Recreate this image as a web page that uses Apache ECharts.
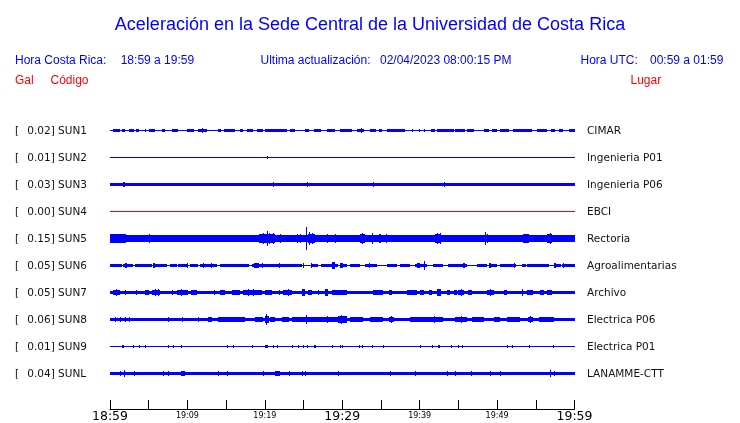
<!DOCTYPE html>
<html>
<head>
<meta charset="utf-8">
<script src="https://cdn.jsdelivr.net/npm/echarts@6/dist/echarts.min.js"></script>
<style>html,body{margin:0;padding:0;background:#fff}#c{width:740px;height:423px}</style>
</head>
<body>
<div id="c"></div>
<script>
// ---- data ----
const stations = ['SUN1','SUN2','SUN3','SUN4','SUN5','SUN6','SUN7','SUN8','SUN9','SUNL'];
const peakGal = [0.02, 0.01, 0.03, 0.00, 0.15, 0.05, 0.05, 0.06, 0.01, 0.04];
const places = ['CIMAR','Ingenieria P01','Ingenieria P06','EBCI','Rectoria','Agroalimentarias','Archivo','Electrica P06','Electrica P01','LANAMME-CTT'];
const timeTickLabels = ['18:59','','19:09','','19:19','','19:29','','19:39','','19:49','','19:59'];
// background (noise) half-amplitude in Gal for each trace
const baseGal = [0.006, 0.006, 0.019, 0.006, 0.04, 0.008, 0.022, 0.024, 0.006, 0.023];
// bursts: [start minute, end minute, half-amplitude Gal]
const burstsSUN1 = [[0.4,1.3,.015],[1.5,1.9,.015],[2.4,3.1,.015],[3.4,3.7,.015],[4.5,4.7,.025],[5.0,5.8,.015],[6.7,7.1,.015],[8.0,8.8,.015],[9.9,10.8,.015],[11.4,12.5,.015],[11.9,12.0,.026],[14.0,14.3,.015],[14.7,16.2,.015],[16.8,17.2,.015],[17.7,18.5,.015],[19.0,19.8,.015],[20.0,22.8,.015],[23.3,23.9,.015],[25.2,25.7,.015],[26.3,27.2,.015],[28.0,29.1,.015],[29.7,31.3,.015],[31.9,32.8,.015],[32.4,32.5,.026],[33.6,34.3,.015],[34.7,35.1,.015],[35.8,38.1,.015],[39.0,39.2,.015],[39.9,40.1,.015],[40.5,40.7,.015],[41.4,42.0,.015],[42.2,44.4,.015],[44.6,45.9,.015],[46.1,47.0,.015],[48.3,48.9,.015],[49.4,50.0,.015],[50.4,51.5,.015],[52.0,54.5,.015],[55.2,56.5,.015],[56.9,57.5,.015],[58.0,58.5,.015],[59.3,60,.015]];
const burstsSUN2 = [[20.3,20.4,.02],[21.0,21.1,.012],[25.4,25.5,.012]];
const burstsSUN3 = [[1.7,1.9,.036],[21.0,21.1,.03],[25.4,25.5,.032],[34.0,34.1,.028],[43.2,43.3,.028]];
const burstsSUN4 = [];
const burstsSUN5 = [[0,2.1,.055],[0.3,0.4,.06],[1.2,1.3,.06],[4.6,4.8,.05],[5.0,5.1,.052],[8.3,8.4,.05],[12.2,12.3,.05],[16.3,16.4,.05],[17.0,17.1,.05],[19.2,21.3,.052],[19.8,19.9,.07],[20.3,20.4,.09],[20.5,20.6,.075],[21.0,21.1,.075],[22.0,22.1,.052],[24.1,24.2,.055],[24.6,24.7,.055],[25.3,25.45,.15],[25.6,26.5,.055],[25.7,25.8,.077],[26.1,26.2,.07],[28.0,28.1,.052],[29.0,29.1,.052],[32.3,33.0,.055],[32.5,32.6,.07],[33.8,33.9,.065],[34.7,35.0,.055],[35.6,35.7,.052],[37.4,37.5,.05],[40.8,40.9,.05],[41.4,41.5,.05],[42.0,42.8,.055],[42.2,42.3,.075],[42.6,42.7,.07],[44.2,44.3,.05],[47.2,47.3,.05],[48.4,48.5,.085],[48.7,48.8,.055],[51.5,51.6,.05],[53.4,54.1,.055],[53.6,53.7,.06],[56.5,57.1,.055],[56.8,56.9,.065],[59.0,59.1,.05],[59.5,59.6,.05]];
const burstsSUN6 = [[0,1.5,.021],[1.7,3.0,.021],[3.2,5.4,.021],[5.6,7.3,.021],[7.8,8.6,.021],[8.8,10.1,.021],[10.3,11.4,.021],[11.6,13.8,.021],[14.2,17.9,.021],[18.3,24.8,.021],[25.9,26.9,.021],[27.2,29.5,.021],[29.7,30.6,.021],[31.0,32.3,.021],[33.0,34.5,.021],[35.8,37.1,.021],[37.5,38.8,.021],[39.4,40.9,.021],[41.7,43.0,.021],[43.7,46.1,.021],[47.4,48.7,.021],[48.9,50.0,.021],[50.4,52.4,.021],[53.2,53.7,.021],[53.9,56.7,.021],[57.3,58.2,.021],[58.4,60,.021],[2.0,2.2,.032],[5.6,5.8,.03],[9.9,10.1,.03],[12.0,12.1,.028],[13.1,13.2,.03],[18.6,19.2,.032],[19.6,19.7,.028],[21.8,21.9,.03],[24.9,25.0,.028],[26.0,26.1,.028],[28.7,29.1,.045],[29.7,29.8,.03],[29.9,30.1,.032],[33.4,33.5,.028],[39.6,40.0,.028],[40.6,40.7,.058],[45.6,45.8,.038],[49.0,49.2,.032],[52.2,52.3,.026],[57.4,57.6,.033],[58.5,58.6,.028]];
const burstsSUN7 = [[0.4,1.3,.034],[0.8,0.9,.04],[2.0,2.1,.032],[3.4,3.5,.032],[4.5,5.0,.03],[5.4,6.5,.038],[5.8,5.9,.05],[6.2,6.3,.045],[8.0,8.1,.03],[8.6,10.1,.034],[9.2,9.3,.04],[10.5,11.2,.034],[13.4,13.5,.03],[14.2,14.9,.032],[15.7,16.8,.033],[17.2,19.6,.036],[17.8,17.9,.048],[18.5,18.6,.045],[20.0,20.9,.032],[21.8,21.9,.03],[22.4,23.5,.036],[23.0,23.1,.045],[24.8,25.2,.045],[25.6,26.1,.033],[26.9,27.0,.032],[27.8,28.2,.05],[28.7,30.6,.034],[34.0,35.3,.034],[36.0,36.4,.033],[38.4,39.7,.034],[40.1,40.5,.033],[41.2,41.6,.033],[42.2,42.7,.05],[43.5,43.9,.033],[44.4,44.8,.033],[45.0,45.7,.038],[45.3,45.4,.045],[46.3,46.7,.033],[48.7,49.6,.036],[49.1,49.2,.045],[50.9,51.3,.035],[53.2,53.4,.045],[53.9,54.7,.033],[55.6,56.0,.035],[56.5,57.1,.035]];
const burstsSUN8 = [[0.7,0.8,.03],[1.3,1.4,.03],[2.0,2.1,.032],[2.4,2.5,.03],[7.5,7.6,.035],[9.3,9.4,.035],[11.4,11.5,.032],[12.7,13.2,.032],[14.0,17.5,.03],[18.7,19.8,.034],[20.0,20.5,.045],[20.2,20.3,.065],[20.7,21.3,.038],[22.2,23.1,.034],[23.5,30.4,.032],[25.3,25.4,.058],[28.0,28.1,.045],[29.5,30.6,.045],[29.9,30.0,.06],[31.0,32.7,.033],[33.6,35.3,.032],[36.0,36.7,.038],[36.3,36.4,.045],[38.8,40.9,.034],[41.0,43.0,.038],[41.8,41.9,.048],[44.6,46.1,.038],[45.3,45.4,.048],[46.8,48.3,.034],[49.6,50.4,.032],[51.3,53.0,.034],[54.0,54.7,.038],[54.3,54.4,.045],[55.4,57.3,.034]];
const burstsSUN9 = [[1.5,1.6,.02],[1.7,1.8,.018],[3.0,3.1,.018],[3.8,3.9,.02],[4.5,4.6,.018],[7.5,7.6,.02],[8.2,8.3,.018],[9.2,9.3,.02],[15.1,15.2,.02],[15.9,16.0,.018],[18.3,18.4,.018],[20.0,20.4,.024],[21.0,21.1,.02],[21.6,21.7,.018],[23.5,23.7,.02],[24.3,24.4,.018],[24.9,25.0,.018],[25.4,25.5,.02],[26.4,26.6,.02],[28.7,28.8,.018],[29.7,29.8,.018],[30.0,30.1,.02],[32.1,32.2,.018],[32.5,32.6,.018],[33.8,33.9,.018],[35.3,35.4,.018],[40.1,40.2,.018],[41.6,41.7,.018],[42.4,42.6,.024],[44.0,44.1,.018],[45.0,45.1,.018],[45.5,45.6,.018],[51.3,51.4,.018],[51.9,52.0,.018],[54.1,54.2,.018],[57.2,57.3,.018]];
const burstsSUNL = [[1.3,1.4,.032],[1.8,1.9,.045],[3.1,3.2,.028],[6.9,7.0,.028],[7.5,7.6,.032],[9.2,9.7,.032],[14.0,14.1,.028],[15.1,15.2,.032],[19.8,19.9,.028],[21.3,22.0,.038],[23.1,23.2,.028],[24.8,24.9,.028],[25.2,25.3,.028],[29.5,29.6,.032],[36.2,36.3,.032],[39.4,39.5,.038],[43.5,43.6,.028],[44.6,44.7,.028],[46.6,46.7,.028],[49.1,49.2,.028],[50.4,50.5,.038],[56.8,56.9,.045],[57.4,57.5,.028]];
const bursts = [burstsSUN1,burstsSUN2,burstsSUN3,burstsSUN4,burstsSUN5,burstsSUN6,burstsSUN7,burstsSUN8,burstsSUN9,burstsSUNL];

// ---- scale / style constants ----
const GAL_PER_ROW = 27 / 78;
const BLUE = '#0000ff', RED = '#ff0000';
const traceColors = stations.map((s, i) => i === 3 ? RED : BLUE);
const LABEL_FONT = 'DejaVu Sans';
const HEAD_FONT = 'Liberation Sans';

function traceItem(params, api) {
  const t0 = api.value(0), t1 = api.value(1), a = api.value(2), row = api.value(3);
  const c = -row;
  const pTop = api.coord([t0, c + a / GAL_PER_ROW]);
  const pBot = api.coord([t0, c - a / GAL_PER_ROW]);
  const pEnd = api.coord([t1, c]);
  let y0 = Math.round(pTop[1]), y1 = Math.round(pBot[1]);
  if (y1 - y0 < 1) y1 = y0 + 1;
  let x0 = Math.round(pTop[0]), x1 = Math.round(pEnd[0]);
  if (x1 - x0 < 1) x1 = x0 + 1;
  return { type: 'rect', shape: { x: x0, y: y0, width: x1 - x0, height: y1 - y0 },
           style: { fill: api.visual('color') } };
}

function labelItem(params, api) {
  const row = api.value(0);
  const y = api.coord([0, -row])[1] + 0.5;
  const ts = { fontFamily: LABEL_FONT, fontSize: 10.5, fill: '#111', verticalAlign: 'middle', align: 'left' };
  return { type: 'group', children: [
    { type: 'text', x: 15, y: y, style: Object.assign({ text: '[' }, ts) },
    { type: 'text', x: 27.3, y: y, style: Object.assign({ text: peakGal[row].toFixed(2) + '] ' + stations[row] }, ts) },
    { type: 'text', x: 587, y: y, style: Object.assign({ text: places[row] }, ts) }
  ]};
}

const series = stations.map((s, i) => ({
  type: 'custom', name: s, renderItem: traceItem, clip: false, silent: true,
  itemStyle: { color: traceColors[i] },
  encode: { x: [0, 1], y: 2 },
  data: [[0, 60, baseGal[i], i]].concat(bursts[i].map(b => [b[0], b[1], b[2], i]))
}));
series.push({
  type: 'custom', name: 'labels', renderItem: labelItem, clip: false, silent: true,
  encode: { x: -1, y: -1 },
  data: stations.map((s, i) => [i])
});

const headText = (text, x, y, color) => ({
  type: 'text', x: x, y: y,
  style: { text: text, fill: color, fontFamily: HEAD_FONT, fontSize: 12, verticalAlign: 'middle', align: 'left' }
});

const chart = echarts.init(document.getElementById('c'), null, { renderer: 'canvas' });
chart.setOption({
  animation: false,
  backgroundColor: '#fff',
  title: { text: 'Aceleración en la Sede Central de la Universidad de Costa Rica', left: 'center', top: 11,
           textStyle: { color: BLUE, fontFamily: HEAD_FONT, fontSize: 18, fontWeight: 'normal' } },
  graphic: [
    headText('Hora Costa Rica:', 15, 61, BLUE),
    headText('18:59 a 19:59', 120.7, 61, BLUE),
    headText('Ultima actualización:', 260.5, 61, BLUE),
    headText('02/04/2023 08:00:15 PM', 380, 61, BLUE),
    headText('Hora UTC:', 580.5, 61, BLUE),
    headText('00:59 a 01:59', 650, 61, BLUE),
    headText('Gal', 15, 81, RED),
    headText('Código', 50.5, 81, RED),
    headText('Lugar', 630.5, 81, RED)
  ],
  grid: { left: 110, right: 165.5, top: 103.5, bottom: 14, containLabel: false },
  xAxis: {
    type: 'value', min: 0, max: 60, interval: 5, position: 'bottom',
    axisLine: { show: true, onZero: false, lineStyle: { color: '#000', width: 1 } },
    axisTick: { show: true, inside: true, length: 9, lineStyle: { color: '#000' } },
    splitLine: { show: false },
    axisLabel: {
      show: true, margin: 1, verticalAlign: 'top', color: '#000',
      formatter: function (v) {
        const s = timeTickLabels[Math.round(v / 5)];
        if (!s) return '';
        return (Math.round(v) % 30 === 0) ? '{big|' + s + '}' : '{small|' + s + '}';
      },
      rich: {
        big: { fontFamily: LABEL_FONT, fontSize: 12.5, lineHeight: 13, color: '#000' },
        small: { fontFamily: LABEL_FONT, fontSize: 8, lineHeight: 11, color: '#000' }
      }
    }
  },
  yAxis: { type: 'value', min: -10.3148, max: 1.0, show: false, splitLine: { show: false } },
  series: series
});
</script>
</body>
</html>
